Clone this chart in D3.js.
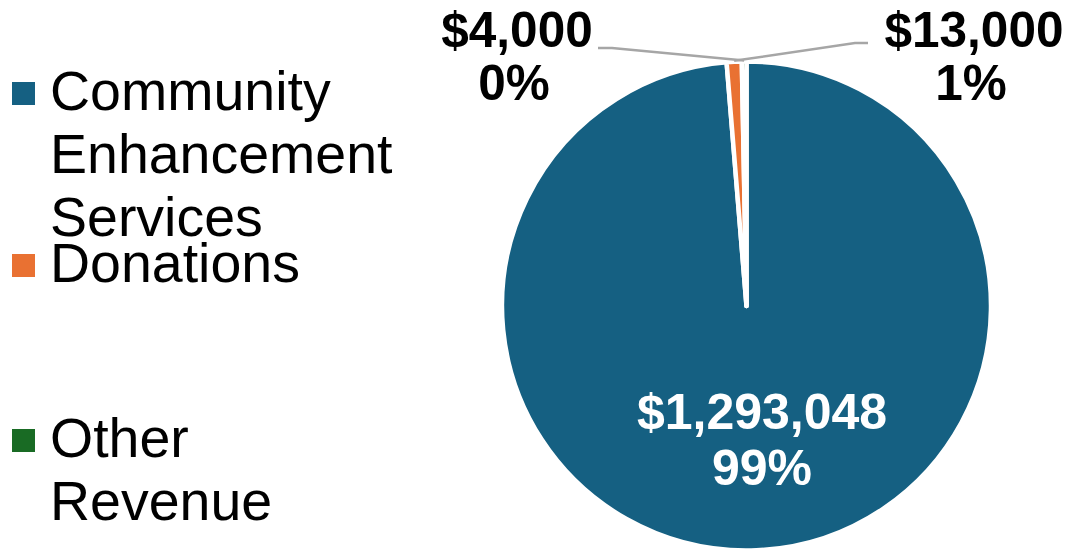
<!DOCTYPE html>
<html>
<head>
<meta charset="utf-8">
<script src="https://cdn.jsdelivr.net/npm/d3@7/dist/d3.min.js"></script>
<style>
  html, body { margin: 0; padding: 0; background: #ffffff; }
  svg { display: block; }
  text { font-family: "Liberation Sans", Arial, sans-serif; }
</style>
</head>
<body>
<svg id="chart" width="1071" height="550"></svg>
<script>
// Revenue sources
const categories = ["Community Enhancement Services", "Donations", "Other Revenue"];
const values = [1293048, 13000, 4000];
const colors = ["#156082", "#E97132", "#196B24"];
// Legend text, wrapped as it appears
const legendLines = [["Community", "Enhancement", "Services"], ["Donations"], ["Other", "Revenue"]];

const svg = d3.select("#chart");
const cx = 746.5, cy = 306, R = 244.5;

const total = d3.sum(values);
const fmtMoney = v => "$" + d3.format(",")(v);
const fmtPct = v => Math.round(v / total * 100) + "%";

const pie = d3.pie().sort(null).value(d => d)(values);
const arc = d3.arc().innerRadius(0).outerRadius(R);

const g = svg.append("g").attr("transform", `translate(${cx},${cy})`);

g.selectAll("path.slice")
  .data(pie)
  .join("path")
  .attr("class", "slice")
  .attr("d", arc)
  .attr("fill", (d, i) => colors[i])
  .attr("stroke", "#ffffff")
  .attr("stroke-width", 4.5)
  .attr("stroke-linejoin", "round");

// Big slice: label inside
const inner = d3.arc().innerRadius(135).outerRadius(135);
const [ix, iy] = inner.centroid(pie[0]);
const inLbl = g.append("text")
  .attr("text-anchor", "middle")
  .attr("fill", "#ffffff")
  .attr("font-weight", "bold")
  .attr("font-size", 50);
inLbl.append("tspan").attr("x", ix + 10).attr("y", iy - 12).text(fmtMoney(values[0]));
inLbl.append("tspan").attr("x", ix + 10).attr("y", iy + 44).text(fmtPct(values[0]));

// Small slices: labels outside with leader lines
const edge = d3.arc().innerRadius(R + 1).outerRadius(R + 1);
const outside = [
  { i: 1, lx: 974, elbowX: 868, kneeX: 855, ly: 43 },
  { i: 2, lx: 517, elbowX: 598, kneeX: 612, ly: 48 }
];

outside.forEach(o => {
  const [px, py] = edge.centroid(pie[o.i]);
  const pts = [
    [px + cx, py + cy],
    [o.kneeX, o.ly],
    [o.elbowX, o.ly]
  ];
  svg.append("path")
    .attr("d", d3.line()(pts))
    .attr("fill", "none")
    .attr("stroke", "#A6A6A6")
    .attr("stroke-width", 2.5);

  const t = svg.append("text")
    .attr("text-anchor", "middle")
    .attr("fill", "#000000")
    .attr("font-weight", "bold")
    .attr("font-size", 49.5);
  t.append("tspan").attr("x", o.lx).attr("y", 47).text(fmtMoney(values[o.i]));
  t.append("tspan").attr("x", o.lx - 3).attr("y", 100).text(fmtPct(values[o.i]));
});

// Legend
const legendBaselines = [110, 282, 457];
const lineStep = 63;
const legend = svg.append("g");
categories.forEach((c, i) => {
  const y0 = legendBaselines[i];
  legend.append("rect")
    .attr("x", 12).attr("y", y0 - 28)
    .attr("width", 23).attr("height", 23)
    .attr("fill", colors[i]);
  const t = legend.append("text")
    .attr("fill", "#000000")
    .attr("font-size", 55.5);
  legendLines[i].forEach((ln, k) => {
    t.append("tspan").attr("x", 50).attr("y", y0 + k * lineStep).text(ln);
  });
});
</script>
</body>
</html>
